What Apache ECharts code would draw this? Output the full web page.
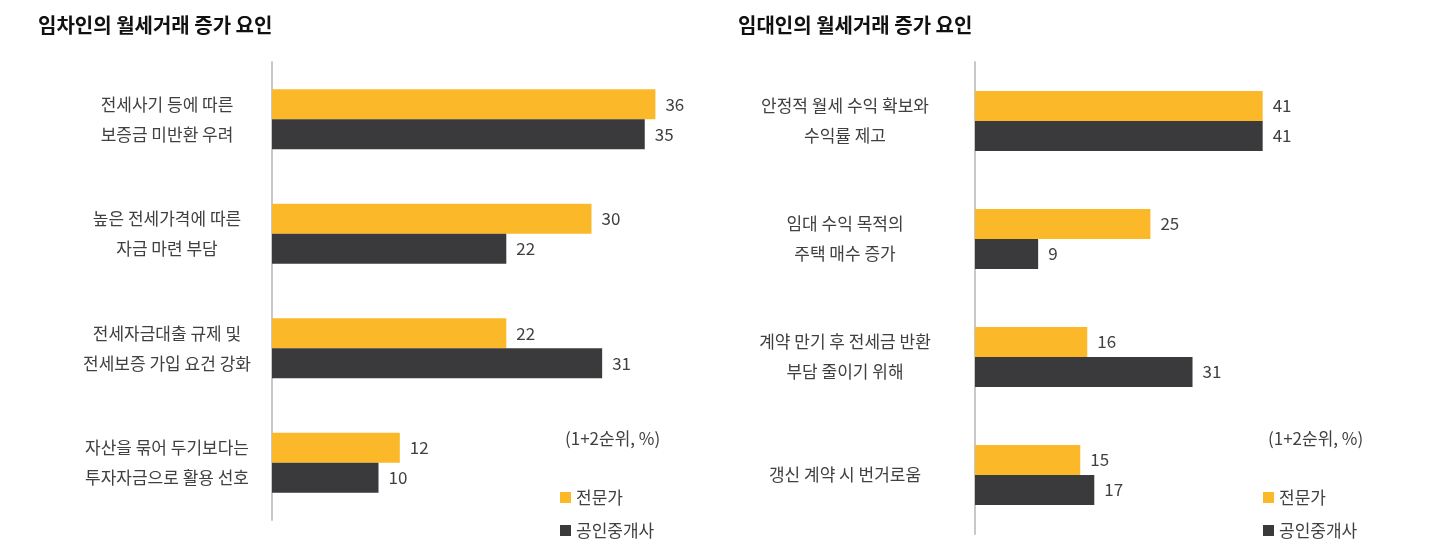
<!DOCTYPE html>
<html><head><meta charset="utf-8">
<script src="https://cdn.jsdelivr.net/npm/echarts@6/dist/echarts.min.js"></script>
<style>body{margin:0;background:#fff}#c{width:1450px;height:560px}</style>
</head><body><div id="c"></div>
<script>
const leftTitle = '임차인의 월세거래 증가 요인';
const rightTitle = '임대인의 월세거래 증가 요인';
const leftCats = ['전세사기 등에 따른\n보증금 미반환 우려','높은 전세가격에 따른\n자금 마련 부담','전세자금대출 규제 및\n전세보증 가입 요건 강화','자산을 묶어 두기보다는\n투자자금으로 활용 선호'];
const leftExpert = [36,30,22,12];
const leftAgent = [35,22,31,10];
const rightCats = ['안정적 월세 수익 확보와\n수익률 제고','임대 수익 목적의\n주택 매수 증가','계약 만기 후 전세금 반환\n부담 줄이기 위해','갱신 계약 시 번거로움'];
const rightExpert = [41,25,16,15];
const rightAgent = [41,9,31,17];
const names = ['전문가','공인중개사'];
const note = '(1+2순위, %)';
const C1='#FBB829', C2='#3A3A3C';
const font='"Noto Sans CJK KR", sans-serif';
const lbl={show:true,position:'right',fontSize:17,color:'#404040',fontFamily:font,distance:10};
function ser(name,data,idx,color){return {name,type:'bar',data,xAxisIndex:idx,yAxisIndex:idx,barWidth:30,barGap:'0%',itemStyle:{color},label:lbl,emphasis:{disabled:true}};}
const chart=echarts.init(document.getElementById('c'));
chart.setOption({
 animation:false,
 textStyle:{fontFamily:font},
 title:[{text:leftTitle,left:33,top:10,textStyle:{fontSize:20,fontWeight:'bold',color:'#111',fontFamily:font}},
        {text:rightTitle,left:733,top:10,textStyle:{fontSize:20,fontWeight:'bold',color:'#111',fontFamily:font}}],
 grid:[{left:272,top:62,width:639,height:458},{left:975,top:62,width:421,height:472}],
 xAxis:[{gridIndex:0,type:'value',min:0,max:60,show:false},{gridIndex:1,type:'value',min:0,max:60,show:false}],
 yAxis:[0,1].map(i=>({gridIndex:i,type:'category',inverse:true,data:i?rightCats:leftCats,
   axisLine:{lineStyle:{color:'#c8c8c8',width:2}},axisTick:{show:false},
   axisLabel:{align:'center',margin:i?130:105,fontSize:17,lineHeight:30,color:'#404040',fontFamily:font}})),
 legend:[{left:555,top:484,orient:'vertical',itemGap:16,itemWidth:11,itemHeight:11,icon:'rect',data:names,textStyle:{fontSize:17,color:'#404040',fontFamily:font}},
         {left:1258,top:484,orient:'vertical',itemGap:16,itemWidth:11,itemHeight:11,icon:'rect',data:names,textStyle:{fontSize:17,color:'#404040',fontFamily:font}}],
 graphic:[{type:'text',left:565,top:430,style:{text:note,fontSize:17,fill:'#404040',fontFamily:font}},
          {type:'text',left:1268,top:430,style:{text:note,fontSize:17,fill:'#404040',fontFamily:font}}],
 series:[ser(names[0],leftExpert,0,C1),ser(names[1],leftAgent,0,C2),ser(names[0],rightExpert,1,C1),ser(names[1],rightAgent,1,C2)]
});
</script></body></html>
